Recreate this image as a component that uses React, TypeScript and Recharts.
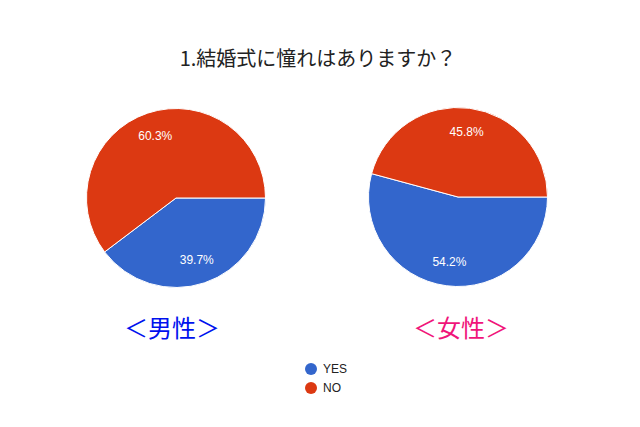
import React from 'react';
import { PieChart, Pie, Cell, Legend } from 'recharts';

const categories = ['YES', 'NO'];
const colors = ['#3366CC', '#DC3912'];
const maleValues = [39.7, 60.3];
const femaleValues = [54.2, 45.8];
const title = '1.結婚式に憧れはありますか？';
const groupLabels = ['＜男性＞', '＜女性＞'];

const maleData = categories.map((name, i) => ({ name, value: maleValues[i] }));
const femaleData = categories.map((name, i) => ({ name, value: femaleValues[i] }));

const RADIAN = Math.PI / 180;

const renderLabel = (props: any) => {
  const { cx, cy, midAngle, outerRadius, percent } = props;
  const r = outerRadius * 0.73;
  const x = cx + r * Math.cos(-midAngle * RADIAN);
  const y = cy + r * Math.sin(-midAngle * RADIAN);
  return (
    <text
      x={x}
      y={y}
      fill="#fff"
      textAnchor="middle"
      dominantBaseline="central"
      fontSize={12}
      fontFamily="Liberation Sans, Arial, sans-serif"
    >
      {`${(percent * 100).toFixed(1)}%`}
    </text>
  );
};

const CustomLegend = () => (
  <div style={{ display: 'flex', flexDirection: 'column', alignItems: 'center' }}>
    <div style={{ paddingLeft: 12 }}>
      {categories.map((c, i) => (
        <div key={c} style={{ display: 'flex', alignItems: 'center', height: 19 }}>
          <span
            style={{
              display: 'inline-block',
              width: 12,
              height: 12,
              borderRadius: 6,
              background: colors[i],
              marginRight: 6,
            }}
          />
          <span style={{ fontSize: 12, color: '#222', fontFamily: 'Liberation Sans, Arial, sans-serif' }}>{c}</span>
        </div>
      ))}
    </div>
  </div>
);

const App = () => {
  return (
    <div style={{ position: 'absolute', left: 0, top: 0, width: 640, height: 427, background: '#fff' }}>
      <div
        style={{
          position: 'absolute',
          top: 45,
          left: 0,
          width: 636,
          textAlign: 'center',
          fontSize: 20,
          color: '#222',
          fontFamily: '"Noto Sans CJK JP", sans-serif',
          lineHeight: '26px',
        }}
      >
        {title}
      </div>
      <PieChart
        width={640}
        height={427}
        margin={{ top: 0, right: 0, bottom: 0, left: 0 }}
        style={{ position: 'absolute', left: 0, top: 0 }}
      >
        <Pie
          data={maleData}
          dataKey="value"
          nameKey="name"
          cx={176}
          cy={198}
          outerRadius={89.5}
          startAngle={0}
          endAngle={-360}
          stroke="#fff"
          strokeWidth={1}
          label={renderLabel}
          labelLine={false}
          isAnimationActive={false}
        >
          {maleData.map((d, i) => (
            <Cell key={d.name} fill={colors[i]} />
          ))}
        </Pie>
        <Pie
          data={femaleData}
          dataKey="value"
          nameKey="name"
          cx={458}
          cy={197}
          outerRadius={89.5}
          startAngle={0}
          endAngle={-360}
          stroke="#fff"
          strokeWidth={1}
          label={renderLabel}
          labelLine={false}
          isAnimationActive={false}
        >
          {femaleData.map((d, i) => (
            <Cell key={d.name} fill={colors[i]} />
          ))}
        </Pie>
        <Legend
          content={<CustomLegend />}
          wrapperStyle={{ top: 359, left: 0, width: 640, bottom: 'auto' }}
        />
      </PieChart>
      <div
        style={{
          position: 'absolute',
          top: 310,
          left: 72,
          width: 200,
          textAlign: 'center',
          fontSize: 24,
          color: '#0011EE',
          fontFamily: '"Noto Sans CJK JP", sans-serif',
          lineHeight: '34px',
        }}
      >
        {groupLabels[0]}
      </div>
      <div
        style={{
          position: 'absolute',
          top: 310,
          left: 361,
          width: 200,
          textAlign: 'center',
          fontSize: 24,
          color: '#F0147A',
          fontFamily: '"Noto Sans CJK JP", sans-serif',
          lineHeight: '34px',
        }}
      >
        {groupLabels[1]}
      </div>
    </div>
  );
};

export default App;
